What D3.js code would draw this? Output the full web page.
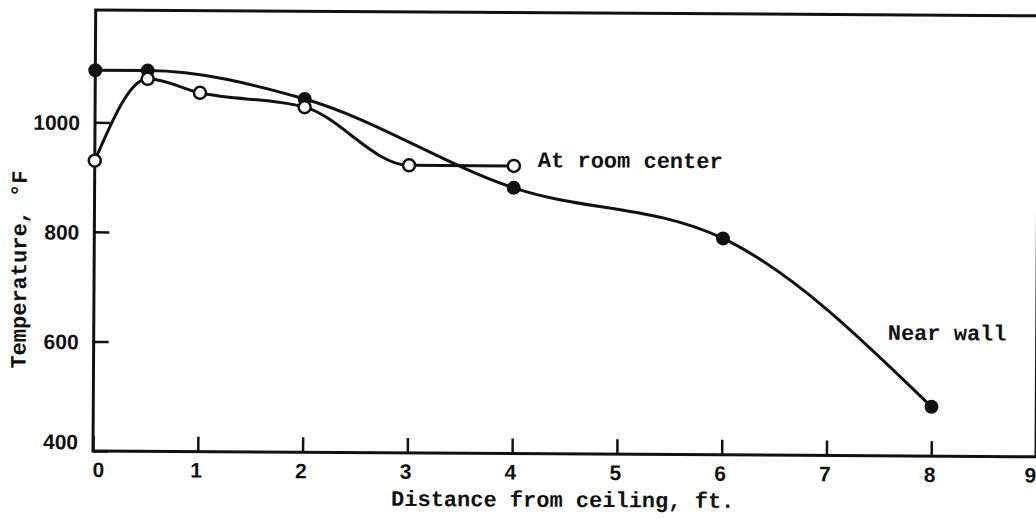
<!DOCTYPE html>
<html>
<head>
<meta charset="utf-8">
<script src="https://cdn.jsdelivr.net/npm/d3@7"></script>
<style>
  html, body { margin: 0; padding: 0; background: #fff; }
  svg { display: block; }
  .tick text { font-family: "Liberation Sans", Arial, sans-serif; font-weight: bold; font-size: 21px; fill: #111; }
  .lab { font-family: "Liberation Mono", "Courier New", monospace; font-weight: bold; font-size: 22px; fill: #111; }
</style>
</head>
<body>
<svg id="chart" width="1036" height="519"></svg>
<script>
// Ceiling-height temperature profiles (°F vs distance below ceiling, ft)
const wallDistance = [0, 0.5, 2, 4, 6, 8];
const wallTemp     = [1095, 1095, 1045, 885, 795, 490];

const centerDistance = [0, 0.5, 1, 2, 3, 4];
const centerTemp     = [930, 1080, 1055, 1030, 925, 925];

const xTickValues = [0, 1, 2, 3, 4, 5, 6, 7, 8, 9];
const yTickValues = [400, 600, 800, 1000];

const xTitle = "Distance from ceiling, ft.";
const yTitle = "Temperature, °F";
const wallLabel = "Near wall";
const centerLabel = "At room center";

const svg = d3.select("#chart");
const plotLeft = 93, plotRight = 1036, plotTop = 10, plotBottom = 451;

const x = d3.scaleLinear().domain([0, 9]).range([plotLeft, plotRight]);
const y = d3.scaleLinear().domain([400, 1205]).range([plotBottom, plotTop]);

// the whole sheet sits at a very slight tilt
const g = svg.append("g").attr("transform", `rotate(0.35, ${plotLeft}, ${plotBottom})`);

// frame
g.append("rect")
  .attr("x", plotLeft).attr("y", plotTop)
  .attr("width", plotRight - plotLeft).attr("height", plotBottom - plotTop)
  .attr("fill", "none").attr("stroke", "#111").attr("stroke-width", 3);

// x axis: ticks point up into the plot
const xAxis = g.append("g")
  .attr("transform", `translate(0,${plotBottom})`)
  .call(d3.axisBottom(x).tickValues(xTickValues).tickSize(-15).tickPadding(11).tickFormat(d3.format("d")));
xAxis.select(".domain").remove();
xAxis.selectAll(".tick line").attr("stroke", "#111").attr("stroke-width", 2.5);
xAxis.selectAll(".tick text").attr("dx", d => d === 0 ? 5 : d === 9 ? -6 : -2);

// y axis: ticks point right into the plot
const yAxis = g.append("g")
  .attr("transform", `translate(${plotLeft},0)`)
  .call(d3.axisLeft(y).tickValues(yTickValues).tickSize(-15).tickPadding(15).tickFormat(d3.format("d")));
yAxis.select(".domain").remove();
yAxis.selectAll(".tick line").attr("stroke", "#111").attr("stroke-width", 2.5);
yAxis.selectAll(".tick text").attr("dy", d => d === 400 ? "-0.1em" : "0.35em");

// axis titles
g.append("text").attr("class", "lab")
  .attr("x", 563).attr("y", 504)
  .attr("text-anchor", "middle")
  .text(xTitle);
g.append("text").attr("class", "lab")
  .attr("transform", "translate(25,270) rotate(-90)")
  .attr("text-anchor", "middle")
  .text(yTitle);

const line = d3.line()
  .x(d => x(d[0]))
  .y(d => y(d[1]))
  .curve(d3.curveMonotoneX);

const wallPts = wallDistance.map((d, i) => [d, wallTemp[i]]);
const centerPts = centerDistance.map((d, i) => [d, centerTemp[i]]);

g.append("path").datum(wallPts)
  .attr("d", line).attr("fill", "none").attr("stroke", "#111").attr("stroke-width", 3);
g.append("path").datum(centerPts)
  .attr("d", line).attr("fill", "none").attr("stroke", "#111").attr("stroke-width", 3);

// near-wall readings: filled dots
g.selectAll("circle.wall").data(wallPts).enter().append("circle")
  .attr("class", "wall")
  .attr("cx", d => x(d[0])).attr("cy", d => y(d[1]))
  .attr("r", 7).attr("fill", "#111");

// room-centre readings: open dots
g.selectAll("circle.center").data(centerPts).enter().append("circle")
  .attr("class", "center")
  .attr("cx", d => x(d[0])).attr("cy", d => y(d[1]))
  .attr("r", 6).attr("fill", "#fff").attr("stroke", "#111").attr("stroke-width", 2.5);

// series labels
g.append("text").attr("class", "lab")
  .attr("x", x(4) + 24).attr("y", y(centerTemp[5]) + 1)
  .text(centerLabel);
g.append("text").attr("class", "lab")
  .attr("x", 887).attr("y", 335)
  .text(wallLabel);
</script>
</body>
</html>
